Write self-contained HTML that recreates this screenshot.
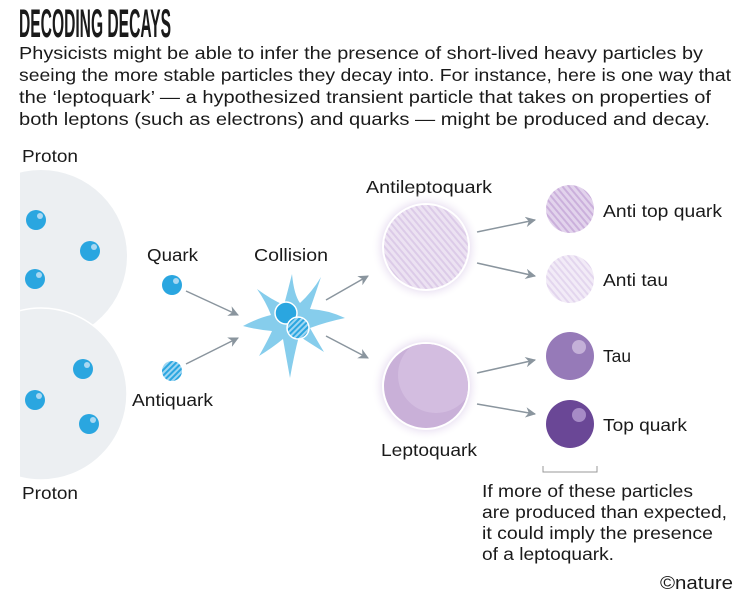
<!DOCTYPE html>
<html><head><meta charset="utf-8"><style>
html,body{margin:0;padding:0;background:#fff}
svg{display:block}
text{font-family:"Liberation Sans",sans-serif;fill:#1a1a1a}
</style></head><body>
<svg width="751" height="597" viewBox="0 0 751 597" xmlns="http://www.w3.org/2000/svg">
<defs>
<pattern id="hb" width="4" height="4" patternUnits="userSpaceOnUse" patternTransform="rotate(45)">
<rect width="4" height="4" fill="#9fd6f2"/><rect width="2" height="4" fill="#2aa6e0"/></pattern>
<pattern id="hp" width="5" height="5" patternUnits="userSpaceOnUse" patternTransform="rotate(-40)">
<rect width="5" height="5" fill="#ece2f2"/><rect width="2" height="5" fill="#dccbe8"/></pattern>
<pattern id="hp2" width="5" height="5" patternUnits="userSpaceOnUse" patternTransform="rotate(-40)">
<rect width="5" height="5" fill="#e2d3ec"/><rect width="2" height="5" fill="#cbb0dc"/></pattern>
<pattern id="hp3" width="5" height="5" patternUnits="userSpaceOnUse" patternTransform="rotate(-40)">
<rect width="5" height="5" fill="#f2ebf7"/><rect width="2" height="5" fill="#e3d6ee"/></pattern>
<radialGradient id="glow"><stop offset="0.75" stop-color="#e6dcf0"/><stop offset="1" stop-color="#fff" stop-opacity="0"/></radialGradient>
<marker id="ar" viewBox="0 0 10 10" refX="9" refY="5" markerWidth="7" markerHeight="7" orient="auto"><path d="M0,0 L10,5 L0,10 L3,5z" fill="#8a959e"/></marker>
<clipPath id="cl"><rect x="20" y="0" width="731" height="597"/></clipPath>
<clipPath id="lq"><circle cx="426" cy="386" r="42"/></clipPath>
</defs>
<text x="19" y="37" font-size="40" font-weight="bold" textLength="152" lengthAdjust="spacingAndGlyphs">DECODING DECAYS</text>
<g font-size="17.5">
<text x="19" y="59" textLength="684" lengthAdjust="spacingAndGlyphs">Physicists might be able to infer the presence of short-lived heavy particles by</text>
<text x="19" y="81" textLength="712" lengthAdjust="spacingAndGlyphs">seeing the more stable particles they decay into. For instance, here is one way that</text>
<text x="19" y="103" textLength="692" lengthAdjust="spacingAndGlyphs">the ‘leptoquark’ — a hypothesized transient particle that takes on properties of</text>
<text x="19" y="125" textLength="691" lengthAdjust="spacingAndGlyphs">both leptons (such as electrons) and quarks — might be produced and decay.</text>
</g>
<g font-size="17.5">
<text x="22" y="162" textLength="56" lengthAdjust="spacingAndGlyphs">Proton</text>
<text x="22" y="499" textLength="56" lengthAdjust="spacingAndGlyphs">Proton</text>
<text x="147" y="261" textLength="51" lengthAdjust="spacingAndGlyphs">Quark</text>
<text x="254" y="261" textLength="74" lengthAdjust="spacingAndGlyphs">Collision</text>
<text x="132" y="406" textLength="81" lengthAdjust="spacingAndGlyphs">Antiquark</text>
<text x="366" y="193" textLength="126" lengthAdjust="spacingAndGlyphs">Antileptoquark</text>
<text x="381" y="456" textLength="96" lengthAdjust="spacingAndGlyphs">Leptoquark</text>
<text x="603" y="217" textLength="119" lengthAdjust="spacingAndGlyphs">Anti top quark</text>
<text x="603" y="286" textLength="65" lengthAdjust="spacingAndGlyphs">Anti tau</text>
<text x="603" y="362" textLength="28" lengthAdjust="spacingAndGlyphs">Tau</text>
<text x="603" y="431" textLength="84" lengthAdjust="spacingAndGlyphs">Top quark</text>
<text x="482" y="497" textLength="211" lengthAdjust="spacingAndGlyphs">If more of these particles</text>
<text x="482" y="518" textLength="245" lengthAdjust="spacingAndGlyphs">are produced than expected,</text>
<text x="482" y="539" textLength="231" lengthAdjust="spacingAndGlyphs">it could imply the presence</text>
<text x="482" y="560" textLength="132" lengthAdjust="spacingAndGlyphs">of a leptoquark.</text>
<text x="660" y="589" fill="#888" font-size="18" textLength="73" lengthAdjust="spacingAndGlyphs">©nature</text>
</g>
<g clip-path="url(#cl)">
<circle cx="41" cy="256" r="86" fill="#eceff2"/>
<circle cx="41" cy="394" r="86" fill="#eceff2" stroke="#fff" stroke-width="1.5"/>
</g>
<g fill="#2aa6e0">
<circle cx="36" cy="220" r="10"/><circle cx="90" cy="251" r="10"/><circle cx="35" cy="279" r="10"/>
<circle cx="83" cy="369" r="10"/><circle cx="35" cy="400" r="10"/><circle cx="89" cy="424" r="10"/>
<circle cx="172" cy="285" r="10"/>
</g>
<g fill="#a9d8f2"><circle cx="40" cy="216" r="3"/><circle cx="94" cy="247" r="3"/><circle cx="39" cy="275" r="3"/><circle cx="87" cy="365" r="3"/><circle cx="39" cy="396" r="3"/><circle cx="93" cy="420" r="3"/><circle cx="176" cy="281" r="3"/></g>
<circle cx="172" cy="371" r="10" fill="url(#hb)"/>
<g stroke="#8a959e" stroke-width="1.5" fill="none" marker-end="url(#ar)">
<line x1="186" y1="291" x2="238" y2="315"/><line x1="186" y1="364" x2="238" y2="338"/>
<line x1="326" y1="300" x2="368" y2="276"/><line x1="326" y1="336" x2="368" y2="358"/>
<line x1="477" y1="232" x2="535" y2="220"/><line x1="477" y1="263" x2="535" y2="276"/>
<line x1="477" y1="373" x2="535" y2="360"/><line x1="477" y1="404" x2="535" y2="414"/>
</g>
<path d="M292,274 Q294,295 300,303 Q312,292 321,277 Q314,298 310,309 Q328,310 345,318 Q326,322 310,328 Q318,342 324,352 Q308,342 299,336 Q294,355 290,378 Q286,356 283,339 Q272,348 259,356 Q268,340 272,331 Q258,330 243,326 Q258,318 271,315 Q266,302 257,289 Q272,300 284,305 Q288,290 292,274 Z" fill="#86cdec"/>
<circle cx="286" cy="313" r="11" fill="#2aa6e0" stroke="#fff" stroke-width="1.5"/>
<circle cx="298" cy="328" r="11" fill="url(#hb)" stroke="#fff" stroke-width="1.5"/>
<circle cx="426" cy="247" r="55" fill="url(#glow)"/>
<circle cx="426" cy="247" r="43" fill="url(#hp)" stroke="#fff" stroke-width="2"/>
<circle cx="426" cy="386" r="55" fill="url(#glow)"/>
<circle cx="426" cy="386" r="43" fill="#c9b0d8" stroke="#fff" stroke-width="2"/>
<circle cx="436" cy="375" r="38" fill="#d3bde0" clip-path="url(#lq)"/>
<circle cx="570" cy="209" r="24" fill="url(#hp2)"/>
<circle cx="570" cy="279" r="24" fill="url(#hp3)"/>
<circle cx="570" cy="356" r="24" fill="#967ab8"/><circle cx="579" cy="347" r="7" fill="#c4b0d8"/>
<circle cx="570" cy="424" r="24" fill="#6a4796"/><circle cx="579" cy="415" r="7" fill="#a68bc6"/>
<path d="M543,466 V472 H597 V466" stroke="#999" stroke-width="1" fill="none"/>
</svg>
</body></html>
